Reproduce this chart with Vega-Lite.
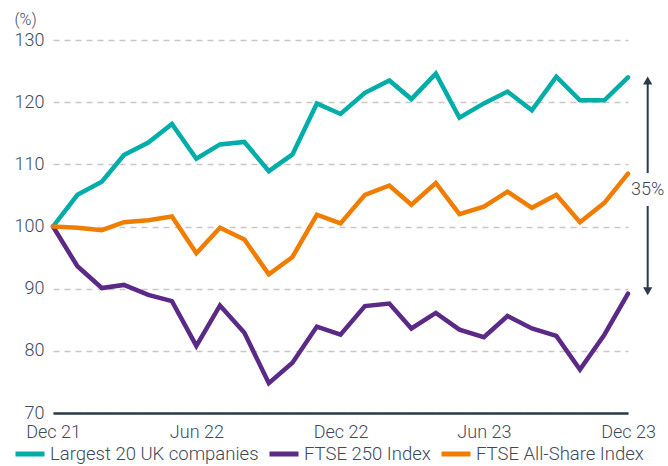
{
  "$schema": "https://vega.github.io/schema/vega-lite/v6.json",
  "width": 575,
  "height": 373,
  "autosize": {"type": "none"},
  "padding": {"left": 53, "top": 40, "right": 40, "bottom": 53},
  "background": "#ffffff",
  "config": {
    "view": {"stroke": null},
    "font": "Roboto",
    "axis": {"labelFont": "Roboto", "labelFontWeight": 300, "labelFontSize": 18, "labelColor": "#3e4a5b", "titleFont": "Roboto", "titleFontWeight": 300, "titleFontSize": 16, "titleColor": "#3e4a5b"},
    "legend": {"labelFont": "Roboto", "labelFontWeight": 300, "labelFontSize": 18.5, "labelColor": "#3e4a5b"}
  },
  "datasets": {
    "main": [
      {"date": "2021-12-01", "series": "Largest 20 UK companies", "value": 100},
      {"date": "2022-01-01", "series": "Largest 20 UK companies", "value": 105.1},
      {"date": "2022-02-01", "series": "Largest 20 UK companies", "value": 107.2},
      {"date": "2022-03-01", "series": "Largest 20 UK companies", "value": 111.5},
      {"date": "2022-04-01", "series": "Largest 20 UK companies", "value": 113.5},
      {"date": "2022-05-01", "series": "Largest 20 UK companies", "value": 116.5},
      {"date": "2022-06-01", "series": "Largest 20 UK companies", "value": 110.9},
      {"date": "2022-07-01", "series": "Largest 20 UK companies", "value": 113.2},
      {"date": "2022-08-01", "series": "Largest 20 UK companies", "value": 113.6},
      {"date": "2022-09-01", "series": "Largest 20 UK companies", "value": 108.9},
      {"date": "2022-10-01", "series": "Largest 20 UK companies", "value": 111.6},
      {"date": "2022-11-01", "series": "Largest 20 UK companies", "value": 119.8},
      {"date": "2022-12-01", "series": "Largest 20 UK companies", "value": 118.1},
      {"date": "2023-01-01", "series": "Largest 20 UK companies", "value": 121.5},
      {"date": "2023-02-01", "series": "Largest 20 UK companies", "value": 123.5},
      {"date": "2023-03-01", "series": "Largest 20 UK companies", "value": 120.5},
      {"date": "2023-04-01", "series": "Largest 20 UK companies", "value": 124.6},
      {"date": "2023-05-01", "series": "Largest 20 UK companies", "value": 117.5},
      {"date": "2023-06-01", "series": "Largest 20 UK companies", "value": 119.8},
      {"date": "2023-07-01", "series": "Largest 20 UK companies", "value": 121.7},
      {"date": "2023-08-01", "series": "Largest 20 UK companies", "value": 118.7},
      {"date": "2023-09-01", "series": "Largest 20 UK companies", "value": 124.1},
      {"date": "2023-10-01", "series": "Largest 20 UK companies", "value": 120.3},
      {"date": "2023-11-01", "series": "Largest 20 UK companies", "value": 120.3},
      {"date": "2023-12-01", "series": "Largest 20 UK companies", "value": 124.0},
      {"date": "2021-12-01", "series": "FTSE 250 Index", "value": 100},
      {"date": "2022-01-01", "series": "FTSE 250 Index", "value": 93.6},
      {"date": "2022-02-01", "series": "FTSE 250 Index", "value": 90.1},
      {"date": "2022-03-01", "series": "FTSE 250 Index", "value": 90.6},
      {"date": "2022-04-01", "series": "FTSE 250 Index", "value": 89.0},
      {"date": "2022-05-01", "series": "FTSE 250 Index", "value": 88.0},
      {"date": "2022-06-01", "series": "FTSE 250 Index", "value": 80.8},
      {"date": "2022-07-01", "series": "FTSE 250 Index", "value": 87.3},
      {"date": "2022-08-01", "series": "FTSE 250 Index", "value": 82.9},
      {"date": "2022-09-01", "series": "FTSE 250 Index", "value": 74.8},
      {"date": "2022-10-01", "series": "FTSE 250 Index", "value": 78.1},
      {"date": "2022-11-01", "series": "FTSE 250 Index", "value": 83.9},
      {"date": "2022-12-01", "series": "FTSE 250 Index", "value": 82.6},
      {"date": "2023-01-01", "series": "FTSE 250 Index", "value": 87.2},
      {"date": "2023-02-01", "series": "FTSE 250 Index", "value": 87.6},
      {"date": "2023-03-01", "series": "FTSE 250 Index", "value": 83.6},
      {"date": "2023-04-01", "series": "FTSE 250 Index", "value": 86.1},
      {"date": "2023-05-01", "series": "FTSE 250 Index", "value": 83.4},
      {"date": "2023-06-01", "series": "FTSE 250 Index", "value": 82.2},
      {"date": "2023-07-01", "series": "FTSE 250 Index", "value": 85.6},
      {"date": "2023-08-01", "series": "FTSE 250 Index", "value": 83.6},
      {"date": "2023-09-01", "series": "FTSE 250 Index", "value": 82.4},
      {"date": "2023-10-01", "series": "FTSE 250 Index", "value": 77.0},
      {"date": "2023-11-01", "series": "FTSE 250 Index", "value": 82.6},
      {"date": "2023-12-01", "series": "FTSE 250 Index", "value": 89.2},
      {"date": "2021-12-01", "series": "FTSE All-Share Index", "value": 100},
      {"date": "2022-01-01", "series": "FTSE All-Share Index", "value": 99.8},
      {"date": "2022-02-01", "series": "FTSE All-Share Index", "value": 99.4},
      {"date": "2022-03-01", "series": "FTSE All-Share Index", "value": 100.7},
      {"date": "2022-04-01", "series": "FTSE All-Share Index", "value": 101.0},
      {"date": "2022-05-01", "series": "FTSE All-Share Index", "value": 101.6},
      {"date": "2022-06-01", "series": "FTSE All-Share Index", "value": 95.7},
      {"date": "2022-07-01", "series": "FTSE All-Share Index", "value": 99.8},
      {"date": "2022-08-01", "series": "FTSE All-Share Index", "value": 97.9},
      {"date": "2022-09-01", "series": "FTSE All-Share Index", "value": 92.3},
      {"date": "2022-10-01", "series": "FTSE All-Share Index", "value": 95.1},
      {"date": "2022-11-01", "series": "FTSE All-Share Index", "value": 101.9},
      {"date": "2022-12-01", "series": "FTSE All-Share Index", "value": 100.5},
      {"date": "2023-01-01", "series": "FTSE All-Share Index", "value": 105.1},
      {"date": "2023-02-01", "series": "FTSE All-Share Index", "value": 106.6},
      {"date": "2023-03-01", "series": "FTSE All-Share Index", "value": 103.5},
      {"date": "2023-04-01", "series": "FTSE All-Share Index", "value": 107.0},
      {"date": "2023-05-01", "series": "FTSE All-Share Index", "value": 102.0},
      {"date": "2023-06-01", "series": "FTSE All-Share Index", "value": 103.2},
      {"date": "2023-07-01", "series": "FTSE All-Share Index", "value": 105.6},
      {"date": "2023-08-01", "series": "FTSE All-Share Index", "value": 103.0},
      {"date": "2023-09-01", "series": "FTSE All-Share Index", "value": 105.1},
      {"date": "2023-10-01", "series": "FTSE All-Share Index", "value": 100.7},
      {"date": "2023-11-01", "series": "FTSE All-Share Index", "value": 103.8},
      {"date": "2023-12-01", "series": "FTSE All-Share Index", "value": 108.5}
    ],
    "arrowSegments": [
      {"date": "2023-12-26", "value": 123.5, "value2": 108.6},
      {"date": "2023-12-26", "value": 103.3, "value2": 89.6}
    ],
    "arrowTop": [{"date": "2023-12-26", "value": 123.5}],
    "arrowBottom": [{"date": "2023-12-26", "value": 89.6}],
    "arrowLabel": [{"date": "2023-12-26", "value": 105.8, "label": "35%"}]
  },
  "encoding": {
    "x": {
      "field": "date",
      "type": "temporal",
      "scale": {
        "type": "utc",
        "domain": [
          {"year": 2021, "month": 12, "date": 1, "utc": true},
          {"year": 2023, "month": 12, "date": 1, "utc": true}
        ]
      },
      "axis": {
        "title": null,
        "labelExpr": "utcFormat(datum.value, '%b %y')",
        "values": [
          {"year": 2021, "month": 12, "date": 1, "utc": true},
          {"year": 2022, "month": 6, "date": 1, "utc": true},
          {"year": 2022, "month": 12, "date": 1, "utc": true},
          {"year": 2023, "month": 6, "date": 1, "utc": true},
          {"year": 2023, "month": 12, "date": 1, "utc": true}
        ],
        "grid": false,
        "ticks": false,
        "domain": true,
        "domainColor": "#2b3a4a",
        "domainWidth": 2.5,
        "labelPadding": 10,
        "labelFlush": false
      }
    },
    "y": {
      "field": "value",
      "type": "quantitative",
      "scale": {"domain": [70, 130], "nice": false, "zero": false},
      "axis": {
        "title": "(%)",
        "titleAngle": 0,
        "titleAlign": "left",
        "titleBaseline": "middle",
        "titleX": -39,
        "titleY": -21,
        "values": [70, 80, 90, 100, 110, 120, 130],
        "grid": true,
        "gridDash": [6, 5],
        "gridColor": "#c8c8c8",
        "gridWidth": 1.5,
        "domain": false,
        "ticks": false,
        "labelPadding": 9
      }
    }
  },
  "layer": [
    {
      "data": {"name": "main"},
      "mark": {"type": "line", "strokeWidth": 4.5, "strokeCap": "round", "strokeJoin": "miter"},
      "encoding": {
        "color": {
          "field": "series",
          "type": "nominal",
          "scale": {
            "domain": ["Largest 20 UK companies", "FTSE 250 Index", "FTSE All-Share Index"],
            "range": ["#00ada8", "#5b2a86", "#f07d00"]
          },
          "legend": {
            "title": null,
            "orient": "none",
            "direction": "horizontal",
            "legendX": -40,
            "legendY": 397,
            "symbolType": "stroke",
            "symbolSize": 841,
            "symbolStrokeWidth": 5,
            "labelOffset": 3,
            "labelLimit": 400,
            "columnPadding": 0,
            "padding": 0
          }
        }
      }
    },
    {
      "data": {"name": "arrowSegments"},
      "mark": {"type": "rule", "color": "#2b3a4a", "strokeWidth": 2, "clip": false},
      "encoding": {
        "y2": {"field": "value2"}
      }
    },
    {
      "data": {"name": "arrowTop"},
      "mark": {"type": "point", "shape": "triangle-up", "filled": true, "size": 85, "color": "#2b3a4a", "opacity": 1, "clip": false},
      "encoding": {}
    },
    {
      "data": {"name": "arrowBottom"},
      "mark": {"type": "point", "shape": "triangle-down", "filled": true, "size": 85, "color": "#2b3a4a", "opacity": 1, "clip": false},
      "encoding": {}
    },
    {
      "data": {"name": "arrowLabel"},
      "mark": {"type": "text", "font": "Roboto", "fontWeight": 300, "fontSize": 18, "color": "#3e4a5b", "align": "center", "baseline": "middle", "clip": false},
      "encoding": {"text": {"field": "label"}}
    }
  ]
}
